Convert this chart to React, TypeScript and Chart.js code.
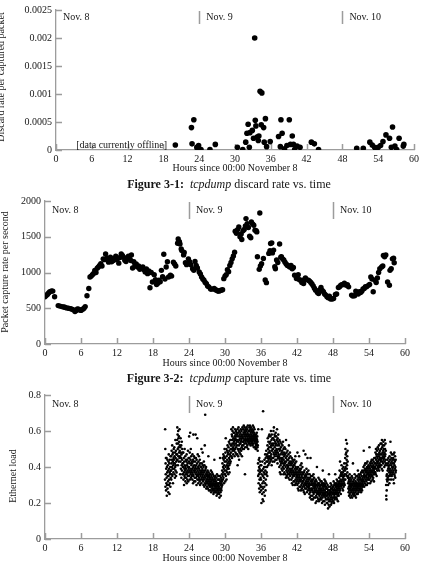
import React, { useEffect, useRef } from 'react';
import { Chart, registerables } from 'chart.js';

Chart.register(...registerables);

// ---- shared axis data ----
const hourTicks = [0, 6, 12, 18, 24, 30, 36, 42, 48, 54, 60];
const dayStartHours = [0, 24, 48];
const dayLabels = ['Nov. 8', 'Nov. 9', 'Nov. 10'];
const xTitle = 'Hours since 00:00 November 8';

// ---- Figure 3-1: discard rate ----
const discardTicks = [0, 0.0005, 0.001, 0.0015, 0.002, 0.0025];
const discardTickLabels = ['0', '0.0005', '0.001', '0.0015', '0.002', '0.0025'];
const discardHours = [
  20.0, 22.7, 23.1, 22.8, 23.6, 23.9, 23.7, 24.3, 25.8, 26.7,
  30.4, 31.3, 31.8, 32.0, 32.2, 32.4, 32.5, 32.9, 33.1, 33.3,
  33.4, 33.5, 33.7, 33.9, 34.0, 34.2, 34.4, 34.5, 34.8, 34.9,
  35.1, 35.3, 35.9, 37.3, 37.7, 37.9, 37.6, 38.3, 38.7, 39.1,
  39.3, 39.6, 39.8, 40.0, 40.4, 40.9, 42.8, 43.3, 44.0, 50.4,
  51.5, 52.6, 53.0, 53.4, 53.6, 54.0, 54.4, 54.8, 55.3, 55.9,
  56.4, 56.2, 56.8, 57.1, 57.5, 58.2, 58.3,
];
const discardRates = [
  0.00009, 0.0004, 0.00054, 0.00011, 0.00005, 0.00008, 0.00001, 0.00001, 0.00001, 0.0001,
  0.00005, 0.00001, 0.00014, 0.0003, 0.00046, 0.00005, 0.00031, 0.00035, 0.00021, 0.002,
  0.00053, 0.00043, 0.00023, 0.00017, 0.00025, 0.00105, 0.00045, 0.00102, 0.0004, 0.00014,
  0.00056, 0.00006, 0.00015, 0.00024, 0.00054, 0.0003, 0.00006, 0.00002, 0.00008, 0.00054,
  0.0001, 0.00025, 0.0001, 0.00001, 0.00007, 0.00005, 0.00014, 0.00011, 0.00001, 0.00003,
  0.00003, 0.00014, 0.00009, 0.00005, 0.00001, 0.00005, 0.00008, 0.00015, 0.00027, 0.00021,
  0.00041, 0.00005, 0.00007, 0.00001, 0.00021, 0.00007, 0.0001,
];
const offlineNote = '[data currently offline]';
const offlineNoteHour = 11;
const offlineNoteRate = 0.00008;

// ---- Figure 3-2: capture rate ----
const captureTicks = [0, 500, 1000, 1500, 2000];
const captureTickLabels = ['0', '500', '1000', '1500', '2000'];
const captureHours = [
  0.0, 0.2, 0.4, 0.6, 0.8, 1.1, 1.3, 1.6, 2.2, 2.5, 2.8, 3.1, 3.3, 3.6, 3.9, 4.2, 4.4, 4.7, 5.0, 5.2,
  5.4, 5.6, 5.8, 6.0, 6.3, 6.5, 6.7, 7.0, 7.3, 7.5, 7.7, 7.9, 8.1, 8.3, 8.5, 8.7, 8.9, 9.1, 9.3, 9.5,
  9.7, 9.9, 10.1, 10.3, 10.6, 10.8, 10.9, 11.1, 11.4, 11.6, 11.8, 12.0, 12.3, 12.5, 12.7, 12.9, 13.1, 13.3, 13.5, 13.7,
  13.9, 14.1, 14.3, 14.4, 14.6, 14.8, 15.0, 15.2, 15.4, 15.6, 15.8, 16.0, 16.3, 16.5, 16.7, 16.9, 17.1, 17.3, 17.5, 17.7,
  17.9, 18.2, 18.4, 18.6, 18.8, 19.0, 19.2, 19.4, 19.6, 19.8, 20.0, 20.2, 20.4, 20.6, 20.9, 21.1, 21.4, 21.6, 21.8, 22.1,
  22.2, 22.4, 22.5, 22.7, 22.8, 23.1, 23.2, 23.4, 23.6, 23.9, 24.1, 24.3, 24.6, 24.8, 25.0, 25.2, 25.4, 25.7, 25.9, 26.1,
  26.3, 26.5, 26.7, 26.9, 27.1, 27.3, 27.6, 27.8, 28.2, 28.4, 28.6, 28.8, 29.0, 29.2, 29.4, 29.6, 29.8, 30.0, 30.2, 30.4,
  30.6, 30.8, 31.0, 31.2, 31.4, 31.6, 31.7, 31.9, 32.1, 32.3, 32.5, 32.7, 32.8, 33.0, 33.2, 33.4, 33.5, 33.7, 33.9, 34.1,
  34.3, 34.4, 34.6, 34.8, 35.0, 35.2, 35.3, 35.4, 35.7, 35.8, 35.9, 36.1, 36.4, 36.7, 36.9, 37.3, 37.5, 37.6, 37.8, 37.9,
  38.1, 38.3, 38.4, 38.6, 38.8, 39.1, 39.3, 39.4, 39.6, 39.8, 40.0, 40.2, 40.4, 40.6, 40.8, 41.0, 41.2, 41.4, 41.6, 41.9,
  42.0, 42.2, 42.4, 42.6, 42.8, 43.1, 43.2, 43.4, 43.6, 43.9, 44.1, 44.3, 44.5, 44.7, 44.9, 45.1, 45.4, 45.6, 45.8, 46.0,
  46.2, 46.4, 46.6, 46.8, 47.0, 47.2, 47.4, 47.6, 47.9, 48.1, 48.4, 48.6, 48.9, 49.1, 49.3, 49.5, 49.7, 49.9, 50.2, 50.4,
  50.6, 51.1, 51.3, 51.6, 51.8, 51.9, 52.2, 52.4, 52.6, 52.8, 53.0, 53.2, 53.4, 53.6, 53.9, 54.1, 54.3, 54.5, 54.7, 55.0,
  55.2, 55.4, 55.6, 55.8, 56.1, 56.3, 56.4, 56.6, 56.8, 57.1, 57.4, 57.5, 57.7, 57.9, 58.1, 58.2,
];
const captureRates = [
  661, 680, 693, 715, 730, 742, 740, 661, 537, 530, 523, 518, 514, 505, 500, 495, 490, 480, 453, 470,
  490, 485, 477, 470, 486, 500, 523, 675, 776, 938, 950, 970, 985, 1030, 1000, 1060, 1076, 1100, 1122, 1090,
  1191, 1180, 1260, 1200, 1145, 1190, 1214, 1150, 1168, 1200, 1228, 1180, 1131, 1210, 1260, 1240, 1214, 1170, 1154, 1200,
  1228, 1190, 1168, 1245, 1062, 1150, 1108, 1120, 1076, 1090, 1044, 1060, 1076, 1040, 1007, 1050, 984, 1020, 786, 1000,
  868, 970, 900, 832, 850, 892, 870, 1030, 940, 1256, 910, 1076, 1150, 938, 961, 950, 1145, 1120, 1090, 1410,
  1468, 1430, 1398, 1330, 1306, 1246, 1280, 1136, 1110, 1191, 1150, 1108, 1053, 1030, 1154, 1100, 1062, 1007, 980, 938,
  910, 892, 860, 845, 810, 799, 770, 767, 776, 760, 753, 740, 739, 750, 753, 760, 914, 950, 970, 1039,
  1010, 1099, 1140, 1191, 1230, 1283, 1578, 1550, 1600, 1638, 1499, 1540, 1462, 1583, 1601, 1652, 1754, 1684, 1629, 1508,
  1485, 1708, 1680, 1661, 1592, 1583, 1568, 1220, 1044, 1833, 1090, 1122, 1197, 896, 858, 1267, 1306, 1406, 1415, 1274,
  1313, 1081, 1053, 1174, 1140, 1399, 1214, 1220, 1191, 1174, 1145, 1120, 1099, 1090, 1076, 1100, 1053, 1070, 961, 915,
  950, 970, 900, 892, 860, 845, 900, 924, 900, 892, 880, 860, 840, 813, 780, 753, 720, 707, 760, 790,
  750, 730, 700, 684, 660, 647, 670, 629, 630, 638, 693, 700, 790, 800, 822, 830, 832, 850, 822, 830,
  799, 684, 670, 675, 740, 716, 700, 730, 720, 739, 770, 776, 800, 799, 820, 832, 938, 910, 730, 892,
  860, 924, 1000, 1053, 1076, 1090, 1237, 1220, 1246, 868, 822, 1030, 1053, 1191, 1200, 1136,
];

// ---- Ethernet load, one sample every 1.5 minutes from 20:00 Nov. 8 ----
const loadTicks = [0, 0.2, 0.4, 0.6, 0.8];
const loadTickLabels = ['0', '0.2', '0.4', '0.6', '0.8'];
const loadStartHour = 20;
const loadSampleHours = 0.025;
const loadNov8 = [
  .33, .61, .50, .29, .42, .36, .45, .27, .39, .31, .45, .34, .24, .40, .30, .37, .44, .28, .35, .41,
  .32, .38, .26, .43, .35, .47, .30, .39, .33, .42, .25, .37, .44, .31, .36, .40, .29, .46, .34, .38,
  .38, .46, .33, .42, .49, .36, .44, .40, .52, .35, .47, .39, .43, .31, .48, .41, .37, .45, .50, .42,
  .44, .39, .51, .36, .46, .42, .34, .48, .40, .55, .38, .45, .41, .49, .35, .43, .47, .37, .53, .44,
  .47, .55, .62, .44, .58, .50, .41, .53, .60, .46, .56, .51, .43, .57, .48, .54, .45, .61, .49, .52,
  .46, .36, .51, .43, .56, .48, .39, .45, .52, .34, .47, .41, .54, .38, .44, .50, .36, .42, .48, .40,
  .42, .36, .48, .33, .40, .45, .37, .30, .43, .39, .35, .50, .41, .34, .38, .46, .32, .40, .36, .44,
  .39, .34, .43, .37, .47, .31, .41, .36, .44, .33, .38, .42, .35, .49, .40, .32, .37, .45, .39, .43,
];
const loadNov9 = [
  .40, .57, .35, .45, .38, .48, .33, .42, .59, .37, .44, .36, .50, .39, .34, .46, .41, .38, .43, .35,
  .37, .42, .33, .47, .39, .36, .44, .31, .40, .58, .35, .43, .38, .46, .32, .41, .37, .45, .34, .39,
  .38, .43, .32, .40, .58, .36, .45, .34, .41, .37, .30, .44, .39, .35, .42, .56, .33, .38, .47, .36,
  .35, .40, .31, .43, .37, .33, .46, .39, .34, .41, .36, .32, .44, .38, .30, .42, .35, .40, .33, .37,
  .36, .40, .31, .50, .38, .34, .42, .37, .33, .39, .35, .48, .41, .32, .36, .38, .30, .40, .34, .43,
  .33, .37, .29, .41, .35, .52, .31, .38, .69, .34, .30, .39, .36, .32, .40, .28, .35, .33, .37, .31,
  .33, .29, .36, .31, .38, .34, .28, .35, .32, .46, .30, .37, .33, .27, .35, .31, .36, .29, .34, .32,
  .30, .34, .27, .36, .31, .29, .38, .33, .26, .35, .30, .32, .28, .37, .31, .34, .27, .33, .29, .36,
  .30, .27, .33, .25, .31, .35, .28, .32, .26, .44, .30, .34, .27, .29, .33, .31, .26, .35, .28, .30,
  .32, .26, .29, .34, .24, .31, .28, .36, .27, .30, .25, .33, .29, .27, .31, .35, .26, .30, .28, .33,
  .29, .25, .33, .23, .31, .27, .35, .45, .28, .32, .26, .30, .24, .34, .28, .31, .27, .33, .29, .36,
  .32, .38, .30, .42, .35, .45, .33, .40, .37, .47, .34, .44, .39, .31, .46, .41, .36, .50, .43, .38,
  .36, .45, .32, .48, .40, .56, .35, .43, .38, .50, .33, .46, .41, .37, .49, .44, .39, .52, .42, .47,
  .40, .48, .36, .51, .43, .39, .54, .45, .41, .49, .37, .53, .44, .47, .42, .55, .46, .50, .43, .52,
  .48, .55, .61, .46, .52, .58, .50, .45, .57, .53, .60, .49, .55, .62, .51, .47, .56, .59, .53, .50,
  .54, .49, .59, .52, .46, .57, .55, .61, .50, .56, .48, .58, .53, .60, .51, .55, .47, .59, .54, .57,
  .52, .58, .47, .61, .41, .55, .50, .59, .46, .54, .62, .49, .57, .52, .44, .60, .55, .48, .58, .53,
  .56, .50, .59, .53, .47, .61, .54, .57, .49, .55, .60, .51, .58, .46, .56, .52, .62, .50, .57, .54,
  .56, .61, .52, .59, .54, .63, .50, .58, .55, .60, .53, .62, .57, .36, .59, .51, .56, .61, .54, .58,
  .55, .60, .53, .58, .62, .51, .57, .55, .61, .52, .59, .56, .63, .54, .58, .50, .60, .55, .57, .53,
  .58, .54, .62, .56, .60, .53, .63, .57, .55, .61, .52, .59, .56, .62, .54, .58, .60, .55, .57, .53,
  .56, .61, .54, .59, .52, .57, .63, .55, .60, .53, .58, .56, .62, .51, .57, .59, .54, .61, .56, .58,
  .55, .51, .57, .53, .50, .56, .52, .58, .54, .50, .56, .53, .59, .52, .55, .57, .51, .54, .49, .52,
  .42, .35, .61, .38, .31, .44, .36, .40, .28, .45, .33, .39, .26, .37, .43, .30, .41, .34, .29, .38,
  .33, .27, .41, .20, .36, .29, .61, .38, .25, .43, .31, .22, .35, .28, .71, .39, .21, .32, .26, .37,
  .34, .40, .29, .44, .36, .24, .42, .31, .47, .38, .27, .45, .33, .40, .36, .49, .30, .43, .37, .46,
  .40, .47, .35, .52, .43, .56, .45, .50, .41, .54, .48, .44, .57, .46, .51, .42, .58, .49, .53, .45,
  .48, .54, .43, .57, .46, .51, .60, .44, .52, .47, .55, .41, .58, .49, .53, .45, .56, .50, .43, .52,
  .50, .56, .45, .60, .48, .53, .62, .47, .55, .43, .58, .51, .46, .57, .49, .54, .44, .52, .59, .48,
  .53, .47, .57, .50, .44, .55, .49, .61, .46, .52, .42, .56, .48, .54, .45, .58, .50, .47, .53, .45,
  .46, .52, .40, .55, .44, .49, .37, .50, .43, .54, .41, .47, .36, .51, .45, .42, .53, .39, .48, .44,
  .43, .49, .38, .52, .45, .40, .47, .54, .42, .36, .50, .44, .39, .48, .41, .46, .37, .51, .43, .47,
  .42, .47, .36, .50, .40, .45, .34, .55, .43, .38, .48, .41, .35, .46, .39, .44, .37, .49, .41, .36,
  .40, .44, .34, .47, .38, .42, .52, .36, .45, .39, .33, .43, .37, .48, .41, .35, .46, .39, .42, .37,
  .38, .43, .33, .41, .36, .45, .31, .39, .42, .34, .37, .44, .30, .40, .35, .38, .43, .32, .36, .41,
  .37, .41, .32, .44, .35, .39, .30, .42, .36, .46, .33, .38, .40, .31, .37, .43, .34, .39, .32, .36,
  .35, .39, .30, .48, .33, .37, .28, .40, .34, .31, .38, .27, .36, .32, .46, .35, .29, .39, .33, .37,
  .34, .38, .29, .41, .32, .36, .27, .39, .33, .30, .42, .35, .28, .37, .31, .34, .40, .29, .36, .32,
  .32, .36, .27, .34, .49, .30, .37, .26, .33, .29, .38, .31, .25, .35, .28, .34, .47, .30, .36, .32,
  .31, .35, .28, .39, .30, .33, .26, .37, .29, .34, .45, .31, .27, .36, .32, .29, .38, .30, .34, .28,
  .29, .33, .25, .31, .36, .27, .23, .34, .30, .26, .45, .32, .24, .28, .35, .30, .22, .33, .27, .31,
  .28, .32, .24, .35, .27, .30, .22, .33, .26, .29, .36, .25, .31, .23, .34, .28, .30, .26, .32, .29,
  .27, .31, .23, .29, .20, .33, .26, .30, .24, .28, .32, .21, .27, .40, .25, .30, .23, .29, .26, .31,
  .26, .30, .22, .34, .25, .28, .21, .31, .27, .24, .33, .26, .29, .22, .30, .25, .28, .23, .32, .27,
  .26, .30, .22, .28, .32, .24, .27, .20, .31, .25, .29, .23, .38, .26, .30, .21, .28, .24, .27, .31,
  .25, .29, .21, .33, .24, .27, .19, .30, .26, .23, .32, .25, .28, .22, .29, .24, .31, .26, .20, .28,
  .24, .28, .20, .26, .30, .22, .25, .17, .27, .23, .29, .19, .25, .36, .21, .27, .24, .18, .26, .22,
  .25, .29, .21, .27, .31, .23, .26, .19, .28, .24, .30, .20, .26, .22, .28, .25, .21, .29, .23, .27,
];
const loadNov10 = [
  .25, .29, .21, .27, .32, .23, .26, .20, .30, .24, .28, .22, .31, .25, .27, .36, .23, .29, .26, .30,
  .27, .31, .23, .29, .25, .33, .22, .28, .26, .30, .24, .32, .27, .21, .29, .25, .31, .28, .24, .30,
  .29, .34, .26, .32, .38, .28, .31, .43, .27, .35, .30, .33, .25, .36, .29, .37, .32, .41, .30, .35,
  .31, .36, .28, .39, .33, .30, .37, .27, .34, .40, .32, .29, .38, .35, .31, .42, .33, .36, .30, .39,
  .38, .45, .33, .50, .40, .47, .36, .55, .42, .48, .35, .44, .39, .53, .41, .46, .37, .49, .43, .34,
  .35, .31, .28, .34, .26, .32, .29, .24, .33, .27, .30, .36, .25, .31, .28, .34, .23, .29, .32, .27,
  .30, .26, .33, .24, .29, .35, .27, .31, .23, .28, .34, .25, .30, .42, .27, .32, .26, .29, .24, .31,
  .28, .33, .25, .30, .36, .27, .31, .24, .29, .34, .26, .32, .28, .23, .30, .35, .27, .31, .25, .29,
  .31, .27, .35, .29, .33, .25, .38, .30, .28, .34, .26, .32, .36, .29, .31, .27, .35, .30, .33, .28,
  .30, .34, .27, .36, .31, .29, .33, .26, .37, .32, .28, .35, .30, .33, .27, .38, .31, .29, .34, .32,
  .33, .37, .30, .40, .35, .49, .32, .38, .29, .36, .41, .34, .31, .39, .35, .42, .33, .37, .30, .38,
  .35, .39, .32, .42, .34, .37, .30, .40, .36, .33, .43, .38, .31, .36, .39, .34, .41, .35, .37, .33,
  .36, .40, .33, .51, .38, .35, .42, .31, .39, .37, .34, .41, .36, .43, .32, .38, .40, .35, .44, .37,
  .38, .42, .35, .40, .33, .44, .37, .39, .34, .41, .36, .43, .38, .32, .40, .45, .36, .39, .42, .37,
  .40, .45, .37, .48, .42, .36, .50, .44, .39, .47, .41, .35, .46, .43, .49, .38, .45, .42, .51, .40,
  .43, .47, .39, .50, .44, .41, .52, .46, .38, .48, .42, .45, .40, .49, .44, .47, .41, .53, .45, .43,
  .44, .50, .41, .53, .47, .39, .55, .45, .51, .43, .48, .38, .52, .46, .42, .49, .54, .44, .50, .47,
  .45, .52, .40, .48, .43, .55, .46, .50, .41, .47, .53, .44, .49, .42, .30, .24, .22, .35, .27, .33,
  .36, .41, .32, .44, .38, .34, .42, .30, .39, .45, .35, .40, .33, .43, .37, .41, .31, .46, .38, .35,
  .39, .44, .36, .54, .42, .37, .48, .33, .41, .45, .38, .43, .35, .47, .40, .36, .44, .39, .42, .37,
  .40, .45, .33, .47, .38, .42, .31, .44, .36, .48, .41, .35, .43, .39, .46, .34, .40, .37, .44, .38,
];

const SERIF = '"Liberation Serif", "Times New Roman", serif';
const INK = '#161616';
const RULE = '#9c9c9c';

type Decor = {
  yTitle: string;
  yTitleX: number;
  yTitleY: number;
  markLen: number;
  labelDy: number;
  note?: { text: string; hour: number; value: number };
};

// Inward tick marks, day separators, day labels and the rotated y title.
const decorPlugin = {
  id: 'decor',
  beforeDatasetsDraw(chart: any, _args: any, opts: Decor) {
    const { ctx, chartArea } = chart;
    const xs = chart.scales.x;
    const ys = chart.scales.y;
    ctx.save();
    ctx.strokeStyle = RULE;
    ctx.lineWidth = 1.3;
    ctx.beginPath();
    xs.ticks.forEach((t: any) => {
      const px = Math.round(xs.getPixelForValue(t.value)) + 0.5;
      ctx.moveTo(px, chartArea.bottom);
      ctx.lineTo(px, chartArea.bottom - 6);
    });
    ys.ticks.forEach((t: any) => {
      const py = Math.round(ys.getPixelForValue(t.value)) + 0.5;
      ctx.moveTo(chartArea.left, py);
      ctx.lineTo(chartArea.left + 6, py);
    });
    dayStartHours.forEach((h) => {
      if (h === 0) return;
      const px = Math.round(xs.getPixelForValue(h)) + 0.5;
      ctx.moveTo(px, chartArea.top + 1);
      ctx.lineTo(px, chartArea.top + opts.markLen);
    });
    ctx.lineWidth = 1.5;
    ctx.stroke();

    ctx.fillStyle = INK;
    ctx.font = `10px ${SERIF}`;
    ctx.textAlign = 'left';
    ctx.textBaseline = 'middle';
    dayStartHours.forEach((h, i) => {
      const px = xs.getPixelForValue(h);
      ctx.fillText(dayLabels[i], px + 7, chartArea.top + opts.labelDy);
    });

    if (opts.note) {
      ctx.textAlign = 'center';
      ctx.fillText(
        opts.note.text,
        xs.getPixelForValue(opts.note.hour),
        ys.getPixelForValue(opts.note.value)
      );
    }

    ctx.save();
    ctx.translate(opts.yTitleX, opts.yTitleY);
    ctx.rotate(-Math.PI / 2);
    ctx.textAlign = 'center';
    ctx.fillText(opts.yTitle, 0, 0);
    ctx.restore();
    ctx.restore();
  },
};

type PanelProps = {
  top: number;
  height: number;
  padTop: number;
  padRight: number;
  yWidth: number;
  xHeight: number;
  xTitlePad: number;
  xTickPad: number;
  yMax: number;
  yTicks: number[];
  yTickLabels: string[];
  points: { x: number; y: number }[];
  radius: number;
  decor: Decor;
};

function Panel(p: PanelProps) {
  const ref = useRef<HTMLCanvasElement | null>(null);
  useEffect(() => {
    if (!ref.current) return;
    const tickFont = { family: SERIF, size: 10 };
    const chart = new Chart(ref.current, {
      type: 'scatter',
      data: {
        datasets: [
          {
            data: p.points,
            pointRadius: p.radius,
            pointHoverRadius: p.radius,
            pointBackgroundColor: '#000',
            pointBorderWidth: 0,
            showLine: false,
          },
        ],
      },
      options: {
        responsive: false,
        animation: false,
        events: [],
        layout: {
          autoPadding: false,
          padding: { top: p.padTop, right: p.padRight, bottom: 0, left: 0 },
        },
        plugins: {
          legend: { display: false },
          tooltip: { enabled: false },
          decor: p.decor,
        } as any,
        scales: {
          x: {
            type: 'linear',
            min: 0,
            max: 60,
            afterBuildTicks: (s: any) => {
              s.ticks = hourTicks.map((v) => ({ value: v }));
            },
            afterFit: (s: any) => {
              s.height = p.xHeight;
            },
            grid: { display: false, drawTicks: false },
            border: { display: true, color: RULE, width: 1.3 },
            ticks: {
              font: tickFont,
              color: INK,
              padding: p.xTickPad,
              maxRotation: 0,
              autoSkip: false,
              callback: (v: any) => String(v),
            },
            title: {
              display: true,
              text: xTitle,
              font: tickFont,
              color: INK,
              padding: { top: 0, bottom: p.xTitlePad },
            },
          },
          y: {
            type: 'linear',
            min: 0,
            max: p.yMax,
            afterBuildTicks: (s: any) => {
              s.ticks = p.yTicks.map((v) => ({ value: v }));
            },
            afterFit: (s: any) => {
              s.width = p.yWidth;
            },
            grid: { display: false, drawTicks: false },
            border: { display: true, color: RULE, width: 1.3 },
            ticks: {
              font: tickFont,
              color: INK,
              padding: 4,
              autoSkip: false,
              callback: (_v: any, i: number) => p.yTickLabels[i],
            },
          },
        },
      },
      plugins: [decorPlugin],
    });
    return () => chart.destroy();
  }, []);
  return (
    <canvas
      ref={ref}
      width={422}
      height={p.height}
      style={{ position: 'absolute', left: 0, top: p.top, width: 422, height: p.height }}
    />
  );
}

function Caption({ num, prog, rest, y }: { num: string; prog: string; rest: string; y: number }) {
  return (
    <div
      style={{
        position: 'absolute',
        left: 229,
        top: y,
        transform: 'translate(-50%, -50%)',
        whiteSpace: 'pre',
        font: `12px ${SERIF}`,
        color: INK,
        zIndex: 2,
      }}
    >
      <b>{num}</b>
      {'  '}
      <i>{prog}</i>
      {rest}
    </div>
  );
}

const discardPoints = discardHours.map((h, i) => ({ x: h, y: discardRates[i] }));
const capturePoints = captureHours.map((h, i) => ({ x: h, y: captureRates[i] }));
const loadPoints = [...loadNov8, ...loadNov9, ...loadNov10].map((v, i) => ({
  x: loadStartHour + i * loadSampleHours,
  y: v,
}));

export default function App() {
  return (
    <div
      style={{
        position: 'fixed',
        left: 0,
        top: 0,
        width: 422,
        height: 564,
        background: '#fff',
        overflow: 'hidden',
      }}
    >
      <Panel
        top={0}
        height={176}
        padTop={6}
        padRight={7}
        yWidth={56}
        xHeight={26}
        xTitlePad={2}
        xTickPad={3}
        yMax={0.0025}
        yTicks={discardTicks}
        yTickLabels={discardTickLabels}
        points={discardPoints}
        radius={2.8}
        decor={{
          yTitle: 'Discard rate per captured packet',
          yTitleX: 1,
          yTitleY: 77,
          markLen: 14,
          labelDy: 7.5,
          note: { text: offlineNote, hour: offlineNoteHour, value: offlineNoteRate },
        }}
      />
      <Caption num="Figure 3-1:" prog="tcpdump" rest=" discard rate vs. time" y={184} />
      <Panel
        top={190}
        height={180}
        padTop={11}
        padRight={17}
        yWidth={45}
        xHeight={26}
        xTitlePad={1}
        xTickPad={3}
        yMax={2000}
        yTicks={captureTicks}
        yTickLabels={captureTickLabels}
        points={capturePoints}
        radius={2.7}
        decor={{
          yTitle: 'Packet capture rate per second',
          yTitleX: 5,
          yTitleY: 82,
          markLen: 18,
          labelDy: 9.5,
        }}
      />
      <Caption num="Figure 3-2:" prog="tcpdump" rest=" capture rate vs. time" y={378} />
      <Panel
        top={380}
        height={184}
        padTop={15}
        padRight={17}
        yWidth={45}
        xHeight={25}
        xTitlePad={0}
        xTickPad={3}
        yMax={0.8}
        yTicks={loadTicks}
        yTickLabels={loadTickLabels}
        points={loadPoints}
        radius={1.3}
        decor={{
          yTitle: 'Ethernet load',
          yTitleX: 13,
          yTitleY: 96,
          markLen: 18,
          labelDy: 9.5,
        }}
      />
    </div>
  );
}
